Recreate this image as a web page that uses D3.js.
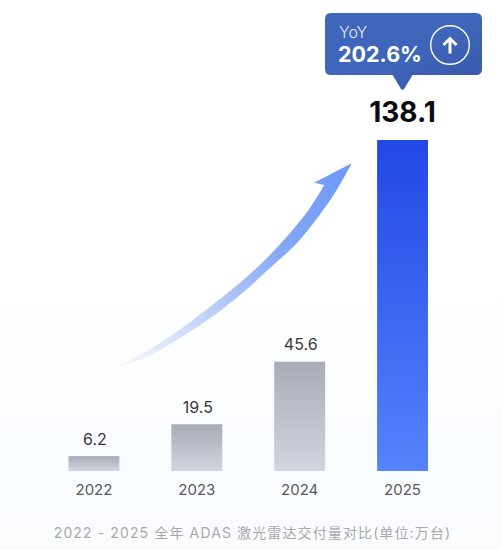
<!DOCTYPE html>
<html><head><meta charset="utf-8">
<script src="https://cdn.jsdelivr.net/npm/d3@7"></script>
<style>html,body{margin:0;padding:0;background:#fff;overflow:hidden}svg{display:block}
text{font-family:Inter,"Noto Sans CJK SC",sans-serif}</style></head>
<body><svg id="c" width="501" height="550"></svg>
<script>
const years = ["2022","2023","2024","2025"];
const values = [6.2,19.5,45.6,138.1];
const valueLabels = ["6.2","19.5","45.6","138.1"];
const callout = {title:"YoY", value:"202.6%"};
const caption = "2022 - 2025 全年 ADAS 激光雷达交付量对比(单位:万台)";

const svg = d3.select("#c");
const W=501,H=550;
const x = d3.scaleBand().domain(years).range([68.5,428]).paddingInner(.505).paddingOuter(0);
const y = d3.scaleLinear().domain([0,138.1]).range([471,140]);
const defs = svg.append("defs");
function grad(id,x1,y1,x2,y2,stops,units){
  const g=defs.append("linearGradient").attr("id",id).attr("x1",x1).attr("y1",y1).attr("x2",x2).attr("y2",y2);
  if(units) g.attr("gradientUnits",units);
  stops.forEach(s=>g.append("stop").attr("offset",s[0]).attr("stop-color",s[1]).attr("stop-opacity",s[2]===undefined?1:s[2]));
}
grad("bg",0,0,0,1,[[0,"#ffffff"],[.5,"#ffffff"],[.85,"#f9fcff"],[1,"#fafcfe"]]);
grad("gray",0,0,0,1,[[0,"#a7acb6"],[1,"#d0d5e0"]]);
grad("blue",0,0,0,1,[[0,"#2148e6"],[1,"#5483fb"]]);
grad("box",0,0,1,1,[[0,"#3f66bd"],[.5,"#3f66bb"],[1,"#3757a8"]]);
grad("arrow",113,368,352,163,[[0,"#dfe6fa",.1],[.15,"#dbe4fb",.85],[.4,"#b4c9f9"],[.65,"#85a8f6"],[1,"#6c98f8"]],"userSpaceOnUse");

svg.append("rect").attr("width",W).attr("height",H).attr("fill","url(#bg)");

// growth arrow
const lower=[[351.7,163.3],[336.7,190],[318.3,216.7],[296.7,243.3],[273.3,265],[240,295],[210,318.3],[176.7,340],[143.3,358.3],[113.3,368.3]];
const upper=[[113.3,368.3],[143.3,353.3],[176.7,331.7],[210,306.7],[240,282.7],[267,258],[290,233],[310,208],[324.3,185]];
const curve=d3.line().curve(d3.curveCatmullRom.alpha(.5));
const barb=[314,182.7];
svg.append("path").attr("fill","url(#arrow)")
  .attr("d",curve(lower)+"L"+curve(upper).slice(1)+"L"+barb.join(",")+"Z");

// bars
svg.selectAll("rect.bar").data(values).join("rect").attr("class","bar")
  .attr("x",(d,i)=>x(years[i])).attr("width",x.bandwidth())
  .attr("y",d=>y(d)).attr("height",d=>y(0)-y(d))
  .attr("fill",(d,i)=>i===3?"url(#blue)":"url(#gray)");

// value labels
svg.selectAll("text.val").data(values).join("text").attr("class","val")
  .attr("x",(d,i)=>x(years[i])+x.bandwidth()/2+(i===3?0:1))
  .attr("y",(d,i)=>i===3?y(d)-18:y(d)-11.5)
  .attr("text-anchor","middle")
  .attr("font-size",(d,i)=>i===3?28:16)
  .attr("font-weight",(d,i)=>i===3?700:400)
  .attr("fill",(d,i)=>i===3?"#0b0b0f":"#383838")
  .text((d,i)=>valueLabels[i]);

// axis
const ax=svg.append("g").attr("transform","translate(0,471)").call(d3.axisBottom(x).tickSize(0).tickPadding(13.5));
ax.select(".domain").remove();
ax.selectAll("text").attr("font-family",'Inter,sans-serif').attr("font-size",15).attr("fill","#5a5a5a");

// callout
const g=svg.append("g");
const cx=x(years[3])+x.bandwidth()/2;
const bx0=325,bx1=482,by0=13,by1=75,r=6;
g.append("path").attr("fill","url(#box)")
 .attr("d",`M${bx0+r},${by0}H${bx1-r}Q${bx1},${by0} ${bx1},${by0+r}V${by1-r}Q${bx1},${by1} ${bx1-r},${by1}H${cx+10}L${cx+1.5},${by1+14}Q${cx},${by1+15.5} ${cx-1.5},${by1+14}L${cx-10},${by1}H${bx0+r}Q${bx0},${by1} ${bx0},${by1-r}V${by0+r}Q${bx0},${by0} ${bx0+r},${by0}Z`);
g.append("text").attr("x",339).attr("y",38).attr("font-size",16).attr("font-weight",300).attr("fill","#e6ecfa").text(callout.title);
g.append("text").attr("x",338).attr("y",62).attr("font-size",21.5).attr("font-weight",700).attr("fill","#fff").text(callout.value);
g.append("circle").attr("cx",450).attr("cy",45).attr("r",19.3).attr("fill","none").attr("stroke","#fff").attr("stroke-width",1.4);
g.append("path").attr("fill","none").attr("stroke","#fff").attr("stroke-width",3).attr("d","M450,53.5V39M443.5,45L450,38.5L456.5,45");

// caption
svg.append("text").attr("x",252.5).attr("y",538).attr("text-anchor","middle").attr("font-size",14).attr("letter-spacing",1.12).attr("fill","#a9a9ab").text(caption);
</script></body></html>
